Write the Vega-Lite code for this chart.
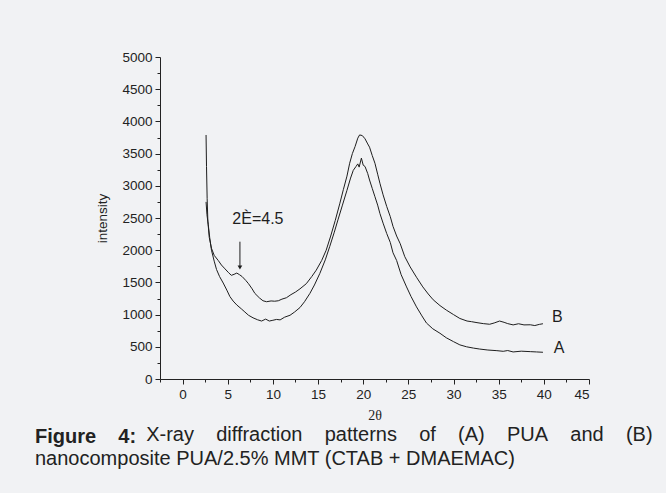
{
  "$schema": "https://vega.github.io/schema/vega-lite/v6.json",
  "width": 429,
  "height": 322,
  "autosize": {"type": "none"},
  "padding": {"left": 160, "top": 57, "right": 77, "bottom": 114},
  "background": "#f1f2f4",
  "config": {
    "view": {"stroke": null},
    "axis": {
      "grid": false,
      "domainColor": "#222222",
      "tickColor": "#222222",
      "domainWidth": 1,
      "tickWidth": 1,
      "labelFont": "Liberation Sans",
      "labelFontSize": 13.5,
      "labelColor": "#222222",
      "titleColor": "#222222",
      "titleFontWeight": "normal"
    }
  },
  "title": {
    "text": "Figure\u00a0\u00a0\u00a0\u00a04:",
    "subtitle": [
      "\u200b\u00a0\u00a0\u00a0\u00a0\u00a0\u00a0\u00a0\u00a0\u00a0\u00a0\u00a0\u00a0\u00a0\u00a0\u00a0\u00a0\u00a0\u00a0\u00a0\u00a0X-ray\u00a0\u00a0\u00a0\u00a0diffraction\u00a0\u00a0\u00a0\u00a0patterns\u00a0\u00a0\u00a0\u00a0of\u00a0\u00a0\u00a0\u00a0(A)\u00a0\u00a0\u00a0\u00a0PUA\u00a0\u00a0\u00a0\u00a0and\u00a0\u00a0\u00a0\u00a0(B)",
      "nanocomposite PUA/2.5% MMT (CTAB + DMAEMAC)"
    ],
    "orient": "bottom",
    "anchor": "start",
    "frame": "group",
    "dx": -125,
    "offset": 4,
    "font": "Liberation Sans",
    "fontSize": 20,
    "fontWeight": "bold",
    "color": "#222222",
    "subtitleFont": "Liberation Sans",
    "subtitleFontSize": 20,
    "subtitleFontWeight": "normal",
    "subtitleColor": "#222222",
    "subtitleLineHeight": 24,
    "subtitlePadding": -22
  },
  "datasets": {
    "curves": [
      {"sample": "B", "theta": 2.6, "intensity": 3789},
      {"sample": "B", "theta": 2.65, "intensity": 3300},
      {"sample": "B", "theta": 2.72, "intensity": 2800},
      {"sample": "B", "theta": 2.8, "intensity": 2450},
      {"sample": "B", "theta": 2.95, "intensity": 2200},
      {"sample": "B", "theta": 3.2, "intensity": 2030},
      {"sample": "B", "theta": 3.5, "intensity": 1920},
      {"sample": "B", "theta": 3.95, "intensity": 1840},
      {"sample": "B", "theta": 4.3, "intensity": 1770},
      {"sample": "B", "theta": 4.7, "intensity": 1710},
      {"sample": "B", "theta": 5.1, "intensity": 1650},
      {"sample": "B", "theta": 5.4, "intensity": 1610},
      {"sample": "B", "theta": 5.7, "intensity": 1625},
      {"sample": "B", "theta": 6.0, "intensity": 1645},
      {"sample": "B", "theta": 6.3, "intensity": 1620},
      {"sample": "B", "theta": 6.6, "intensity": 1590},
      {"sample": "B", "theta": 7.0, "intensity": 1530},
      {"sample": "B", "theta": 7.3, "intensity": 1480},
      {"sample": "B", "theta": 7.7, "intensity": 1400},
      {"sample": "B", "theta": 8.0, "intensity": 1330},
      {"sample": "B", "theta": 8.5, "intensity": 1260},
      {"sample": "B", "theta": 8.9, "intensity": 1215},
      {"sample": "B", "theta": 9.3, "intensity": 1200},
      {"sample": "B", "theta": 9.8, "intensity": 1212},
      {"sample": "B", "theta": 10.2, "intensity": 1208},
      {"sample": "B", "theta": 10.6, "intensity": 1215},
      {"sample": "B", "theta": 11.0, "intensity": 1240},
      {"sample": "B", "theta": 11.5, "intensity": 1262},
      {"sample": "B", "theta": 12.0, "intensity": 1310},
      {"sample": "B", "theta": 12.5, "intensity": 1350},
      {"sample": "B", "theta": 13.0, "intensity": 1400},
      {"sample": "B", "theta": 13.7, "intensity": 1480},
      {"sample": "B", "theta": 14.3, "intensity": 1590},
      {"sample": "B", "theta": 14.8, "intensity": 1690},
      {"sample": "B", "theta": 15.4, "intensity": 1840},
      {"sample": "B", "theta": 15.9, "intensity": 2000},
      {"sample": "B", "theta": 16.4, "intensity": 2220},
      {"sample": "B", "theta": 16.9, "intensity": 2460},
      {"sample": "B", "theta": 17.4, "intensity": 2720},
      {"sample": "B", "theta": 17.8, "intensity": 2940},
      {"sample": "B", "theta": 18.2, "intensity": 3150},
      {"sample": "B", "theta": 18.5, "intensity": 3350},
      {"sample": "B", "theta": 18.8, "intensity": 3500},
      {"sample": "B", "theta": 19.1, "intensity": 3610},
      {"sample": "B", "theta": 19.4, "intensity": 3740},
      {"sample": "B", "theta": 19.6, "intensity": 3790},
      {"sample": "B", "theta": 19.9, "intensity": 3780},
      {"sample": "B", "theta": 20.2, "intensity": 3730},
      {"sample": "B", "theta": 20.5, "intensity": 3650},
      {"sample": "B", "theta": 20.7, "intensity": 3600},
      {"sample": "B", "theta": 21.0, "intensity": 3470},
      {"sample": "B", "theta": 21.3, "intensity": 3350},
      {"sample": "B", "theta": 21.6, "intensity": 3180},
      {"sample": "B", "theta": 21.85, "intensity": 3040},
      {"sample": "B", "theta": 22.2, "intensity": 2860},
      {"sample": "B", "theta": 22.6, "intensity": 2680},
      {"sample": "B", "theta": 23.0, "intensity": 2520},
      {"sample": "B", "theta": 23.3, "intensity": 2370},
      {"sample": "B", "theta": 23.7, "intensity": 2220},
      {"sample": "B", "theta": 24.1, "intensity": 2100},
      {"sample": "B", "theta": 24.6, "intensity": 1900},
      {"sample": "B", "theta": 25.2, "intensity": 1740},
      {"sample": "B", "theta": 25.9, "intensity": 1580},
      {"sample": "B", "theta": 26.6, "intensity": 1430},
      {"sample": "B", "theta": 27.2, "intensity": 1320},
      {"sample": "B", "theta": 27.75, "intensity": 1230},
      {"sample": "B", "theta": 28.5, "intensity": 1140},
      {"sample": "B", "theta": 29.2, "intensity": 1070},
      {"sample": "B", "theta": 30.0, "intensity": 1000},
      {"sample": "B", "theta": 30.7, "intensity": 940},
      {"sample": "B", "theta": 31.5, "intensity": 900},
      {"sample": "B", "theta": 32.0, "intensity": 890},
      {"sample": "B", "theta": 32.6, "intensity": 875},
      {"sample": "B", "theta": 33.3, "intensity": 860},
      {"sample": "B", "theta": 34.0, "intensity": 850},
      {"sample": "B", "theta": 34.5, "intensity": 870},
      {"sample": "B", "theta": 35.1, "intensity": 900},
      {"sample": "B", "theta": 35.6, "intensity": 880},
      {"sample": "B", "theta": 36.0, "intensity": 860},
      {"sample": "B", "theta": 36.6, "intensity": 840},
      {"sample": "B", "theta": 37.2, "intensity": 858},
      {"sample": "B", "theta": 37.8, "intensity": 840},
      {"sample": "B", "theta": 38.5, "intensity": 842},
      {"sample": "B", "theta": 39.0, "intensity": 830},
      {"sample": "B", "theta": 39.5, "intensity": 848},
      {"sample": "B", "theta": 39.9, "intensity": 858},
      {"sample": "A", "theta": 2.6, "intensity": 2750},
      {"sample": "A", "theta": 2.7, "intensity": 2550},
      {"sample": "A", "theta": 2.84, "intensity": 2400},
      {"sample": "A", "theta": 3.0, "intensity": 2200},
      {"sample": "A", "theta": 3.2, "intensity": 2000},
      {"sample": "A", "theta": 3.5, "intensity": 1830},
      {"sample": "A", "theta": 3.76, "intensity": 1700},
      {"sample": "A", "theta": 4.1, "intensity": 1590},
      {"sample": "A", "theta": 4.5, "intensity": 1490},
      {"sample": "A", "theta": 4.9, "intensity": 1380},
      {"sample": "A", "theta": 5.24, "intensity": 1280},
      {"sample": "A", "theta": 5.6, "intensity": 1210},
      {"sample": "A", "theta": 6.0, "intensity": 1150},
      {"sample": "A", "theta": 6.5, "intensity": 1090},
      {"sample": "A", "theta": 6.9, "intensity": 1040},
      {"sample": "A", "theta": 7.3, "intensity": 990},
      {"sample": "A", "theta": 7.8, "intensity": 950},
      {"sample": "A", "theta": 8.3, "intensity": 920},
      {"sample": "A", "theta": 8.75, "intensity": 900},
      {"sample": "A", "theta": 9.2, "intensity": 930},
      {"sample": "A", "theta": 9.6, "intensity": 900},
      {"sample": "A", "theta": 10.0, "intensity": 912},
      {"sample": "A", "theta": 10.4, "intensity": 925},
      {"sample": "A", "theta": 10.8, "intensity": 918},
      {"sample": "A", "theta": 11.3, "intensity": 960},
      {"sample": "A", "theta": 11.9, "intensity": 990},
      {"sample": "A", "theta": 12.4, "intensity": 1040},
      {"sample": "A", "theta": 13.0, "intensity": 1110},
      {"sample": "A", "theta": 13.5, "intensity": 1200},
      {"sample": "A", "theta": 14.1, "intensity": 1330},
      {"sample": "A", "theta": 14.6, "intensity": 1460},
      {"sample": "A", "theta": 15.2, "intensity": 1640},
      {"sample": "A", "theta": 15.8, "intensity": 1850},
      {"sample": "A", "theta": 16.3, "intensity": 2060},
      {"sample": "A", "theta": 16.8, "intensity": 2280},
      {"sample": "A", "theta": 17.2, "intensity": 2470},
      {"sample": "A", "theta": 17.7, "intensity": 2700},
      {"sample": "A", "theta": 18.2, "intensity": 2930},
      {"sample": "A", "theta": 18.6, "intensity": 3120},
      {"sample": "A", "theta": 18.9, "intensity": 3240},
      {"sample": "A", "theta": 19.2, "intensity": 3300},
      {"sample": "A", "theta": 19.4, "intensity": 3340},
      {"sample": "A", "theta": 19.55, "intensity": 3290},
      {"sample": "A", "theta": 19.8, "intensity": 3430},
      {"sample": "A", "theta": 20.0, "intensity": 3320},
      {"sample": "A", "theta": 20.2, "intensity": 3300},
      {"sample": "A", "theta": 20.5, "intensity": 3190},
      {"sample": "A", "theta": 20.7, "intensity": 3090},
      {"sample": "A", "theta": 21.0, "intensity": 2960},
      {"sample": "A", "theta": 21.3, "intensity": 2830},
      {"sample": "A", "theta": 21.6, "intensity": 2700},
      {"sample": "A", "theta": 21.85, "intensity": 2570},
      {"sample": "A", "theta": 22.2, "intensity": 2420},
      {"sample": "A", "theta": 22.6, "intensity": 2260},
      {"sample": "A", "theta": 23.0, "intensity": 2120},
      {"sample": "A", "theta": 23.3, "intensity": 1960},
      {"sample": "A", "theta": 23.7, "intensity": 1840},
      {"sample": "A", "theta": 24.2, "intensity": 1620},
      {"sample": "A", "theta": 24.8, "intensity": 1430},
      {"sample": "A", "theta": 25.3, "intensity": 1280},
      {"sample": "A", "theta": 25.9, "intensity": 1120},
      {"sample": "A", "theta": 26.5, "intensity": 980},
      {"sample": "A", "theta": 27.0, "intensity": 870},
      {"sample": "A", "theta": 27.7, "intensity": 780},
      {"sample": "A", "theta": 28.5, "intensity": 710},
      {"sample": "A", "theta": 29.2, "intensity": 640},
      {"sample": "A", "theta": 30.0, "intensity": 580},
      {"sample": "A", "theta": 30.7, "intensity": 530},
      {"sample": "A", "theta": 31.45, "intensity": 500},
      {"sample": "A", "theta": 32.2, "intensity": 480},
      {"sample": "A", "theta": 32.9, "intensity": 465},
      {"sample": "A", "theta": 33.8, "intensity": 450},
      {"sample": "A", "theta": 34.8, "intensity": 440},
      {"sample": "A", "theta": 35.5, "intensity": 430},
      {"sample": "A", "theta": 36.0, "intensity": 442},
      {"sample": "A", "theta": 36.6, "intensity": 420},
      {"sample": "A", "theta": 37.5, "intensity": 432},
      {"sample": "A", "theta": 38.5, "intensity": 425},
      {"sample": "A", "theta": 39.2, "intensity": 420},
      {"sample": "A", "theta": 39.9, "intensity": 415}
    ],
    "notes": [
      {"theta": 8.34, "intensity": 2484, "label": "2È=4.5"},
      {"theta": 41.5, "intensity": 960, "label": "B"},
      {"theta": 41.7, "intensity": 478, "label": "A"}
    ],
    "arrow": [
      {"theta": 6.35, "intensity": 2132, "intensity2": 1730}
    ]
  },
  "encoding": {
    "x": {
      "field": "theta",
      "type": "quantitative",
      "scale": {"domain": [-2.5, 45], "nice": false, "zero": false},
      "axis": {
        "title": "2θ",
        "titleFont": "Liberation Serif",
        "titleFontSize": 14,
        "titlePadding": 8,
        "values": [-2.5, 0, 2.5, 5, 7.5, 10, 12.5, 15, 17.5, 20, 22.5, 25, 27.5, 30, 32.5, 35, 37.5, 40, 42.5, 45],
        "labelExpr": "datum.value % 5 === 0 ? format(datum.value, 'd') : ''",
        "tickSize": {"condition": {"test": "datum.value % 5 === 0", "value": 5}, "value": 3},
        "labelPadding": 3
      }
    },
    "y": {
      "field": "intensity",
      "type": "quantitative",
      "scale": {"domain": [0, 5000], "nice": false},
      "axis": {
        "title": "intensity",
        "titleFont": "Liberation Sans",
        "titleFontSize": 13.5,
        "titlePadding": 12,
        "values": [0, 250, 500, 750, 1000, 1250, 1500, 1750, 2000, 2250, 2500, 2750, 3000, 3250, 3500, 3750, 4000, 4250, 4500, 4750, 5000],
        "labelExpr": "datum.value % 500 === 0 ? format(datum.value, 'd') : ''",
        "tickSize": {"condition": {"test": "datum.value % 500 === 0", "value": 5}, "value": 3},
        "labelPadding": 3
      }
    }
  },
  "layer": [
    {
      "data": {"name": "curves"},
      "mark": {"type": "line", "color": "#1e1e1e", "strokeWidth": 1},
      "encoding": {"detail": {"field": "sample", "type": "nominal"}}
    },
    {
      "data": {"name": "notes"},
      "mark": {"type": "text", "font": "Liberation Sans", "fontSize": 16, "color": "#1e1e1e", "align": "center", "baseline": "middle"},
      "encoding": {"text": {"field": "label", "type": "nominal"}}
    },
    {
      "data": {"name": "arrow"},
      "mark": {"type": "rule", "color": "#1e1e1e", "strokeWidth": 1},
      "encoding": {"y2": {"field": "intensity2"}}
    },
    {
      "data": {"name": "arrow"},
      "mark": {"type": "point", "shape": "triangle-down", "filled": true, "size": 22, "color": "#1e1e1e", "opacity": 1},
      "encoding": {"y": {"field": "intensity2", "type": "quantitative"}}
    }
  ]
}
